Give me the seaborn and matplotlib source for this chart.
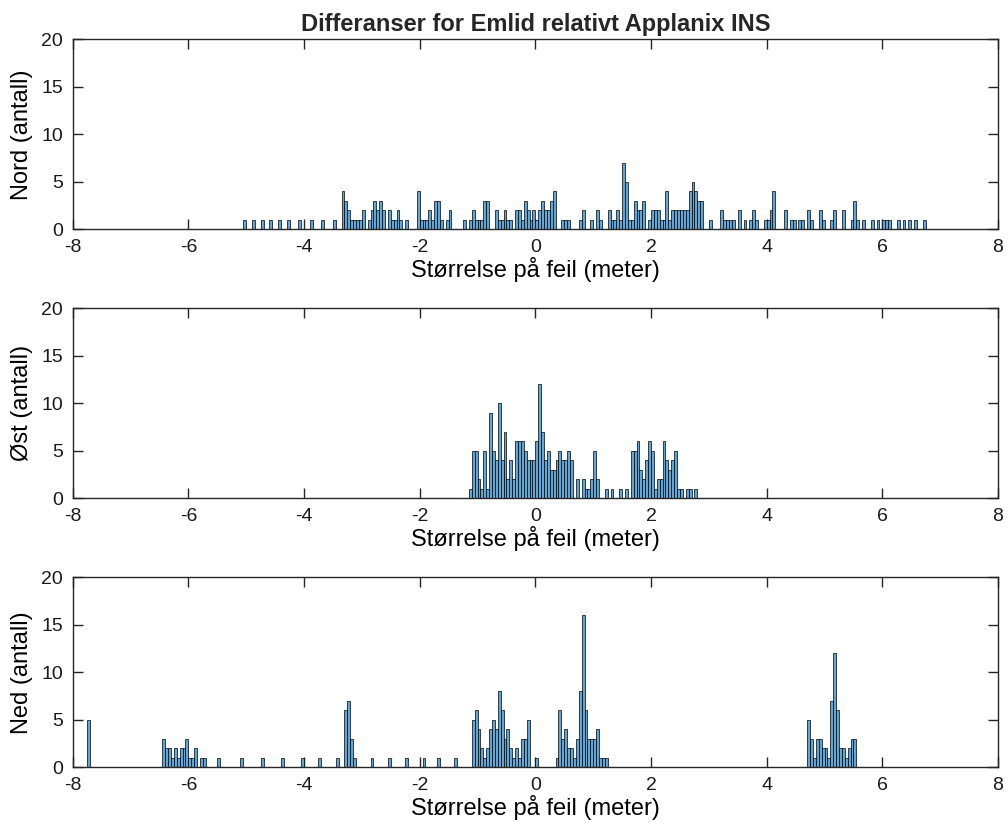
import numpy as np
import pandas as pd
import matplotlib
matplotlib.use("Agg")
import matplotlib.pyplot as plt
import seaborn as sns

# Histogram bin width in metres (all three components use the same bins)
BIN_W = 0.05

# Nord: counts per bin, first bin starts at -5.05 m
nord_start = -5.05
nord_counts = [
    1, 0, 0, 1, 0, 0, 1, 0, 0, 1, 0, 0, 1, 0, 0, 1, 0, 0, 0, 1, 0, 0, 0, 1, 0, 0, 0, 1, 0, 0, 0, 1,
    0, 0, 4, 3, 2, 1, 1, 1, 1, 2, 0, 1, 2, 3, 2, 3, 2, 0, 2, 1, 1, 2, 1, 0, 1, 0, 0, 0, 4, 1,
    1, 1, 2, 1, 3, 3, 1, 0, 1, 2, 0, 0, 0, 0, 1, 0, 1, 2, 1, 1, 1, 3, 3, 0, 0, 2, 1, 1, 2, 1,
    1, 0, 2, 2, 1, 3, 2, 1, 2, 1, 2, 3, 2, 2, 3, 4, 0, 0, 1, 1, 1, 0, 0, 0, 1, 2, 0, 0, 1, 0,
    2, 1, 0, 0, 2, 1, 1, 2, 1, 7, 5, 1, 1, 3, 2, 2, 3, 0, 1, 2, 2, 2, 1, 1, 4, 1, 2, 2, 2, 2,
    2, 2, 4, 5, 4, 3, 3, 0, 0, 1, 0, 0, 0, 2, 1, 1, 1, 1, 0, 2, 0, 1, 0, 1, 2, 1, 0, 0, 1, 1,
    2, 4, 0, 0, 0, 2, 0, 1, 1, 0, 1, 1, 0, 2, 1, 0, 0, 2, 1, 0, 0, 1, 2, 0, 0, 2, 0, 0, 1, 3,
    1, 0, 1, 0, 0, 1, 0, 1, 0, 1, 1, 1, 0, 0, 1, 0, 1, 0, 1, 0, 1, 0, 0, 1,
]

# Øst: counts per bin, first bin starts at -1.15 m
ost_start = -1.15
ost_counts = [
    1, 5, 5, 2, 1, 5, 1, 9, 5, 4, 10, 4, 7, 2, 4, 2, 6, 6, 6, 5, 4, 4, 4, 6, 12, 7, 4, 5, 3, 3,
    4, 5, 4, 4, 5, 4, 0, 2, 0, 2, 1, 1, 2, 5, 2, 0, 0, 1, 0, 1, 0, 0, 1, 0, 1, 0, 5, 5, 6, 3,
    2, 4, 6, 5, 1, 2, 2, 6, 4, 3, 4, 5, 1, 1, 0, 1, 1, 0, 1,
]

# Ned: counts per bin, first bin starts at -7.75 m
ned_start = -7.75
ned_counts = [
    5, 0, 0, 0, 0, 0, 0, 0, 0, 0,
    0, 0, 0, 0, 0, 0, 0, 0, 0, 0,
    0, 0, 0, 0, 0, 0, 3, 2, 2, 1,
    2, 1, 2, 2, 3, 1, 1, 2, 0, 1,
    1, 0, 0, 0, 0, 1, 0, 0, 0, 0,
    0, 0, 0, 1, 0, 0, 0, 0, 0, 0,
    1, 0, 0, 0, 0, 0, 0, 1, 0, 0,
    0, 0, 0, 0, 1, 0, 0, 0, 0, 0,
    1, 0, 0, 0, 0, 0, 1, 0, 0, 6,
    7, 3, 1, 0, 0, 0, 0, 0, 1, 0,
    0, 0, 0, 0, 1, 0, 0, 0, 0, 0,
    1, 0, 0, 0, 0, 0, 1, 0, 0, 0,
    0, 1, 0, 0, 0, 0, 0, 1, 0, 0,
    0, 0, 0, 5, 6, 4, 2, 1, 2, 4,
    5, 4, 8, 6, 3, 4, 2, 1, 2, 1,
    3, 3, 5, 0, 0, 1, 0, 0, 0, 0,
    0, 0, 1, 6, 3, 4, 2, 2, 1, 3,
    8, 16, 6, 3, 3, 3, 4, 1, 1, 1,
    0, 0, 0, 0, 0, 0, 0, 0, 0, 0,
    0, 0, 0, 0, 0, 0, 0, 0, 0, 0,
    0, 0, 0, 0, 0, 0, 0, 0, 0, 0,
    0, 0, 0, 0, 0, 0, 0, 0, 0, 0,
    0, 0, 0, 0, 0, 0, 0, 0, 0, 0,
    0, 0, 0, 0, 0, 0, 0, 0, 0, 0,
    0, 0, 0, 0, 0, 0, 0, 0, 0, 5,
    3, 1, 3, 3, 2, 2, 1, 7, 12, 6,
    2, 2, 1, 2, 3, 3,
]

panel_labels = ["Nord (antall)", "Øst (antall)", "Ned (antall)"]
x_label = "Størrelse på feil (meter)"
title = "Differanser for Emlid relativt Applanix INS"
x_ticks = [-8, -6, -4, -2, 0, 2, 4, 6, 8]
y_ticks = [0, 5, 10, 15, 20]

FACE = (0.38, 0.655, 0.84)
AXC = "#262626"

sns.set_style("ticks")
plt.rcParams["font.family"] = ["Liberation Sans", "DejaVu Sans"]
plt.rcParams.update({
    "axes.unicode_minus": False,
    "axes.edgecolor": AXC,
    "axes.linewidth": 1.0,
    "xtick.color": AXC,
    "ytick.color": AXC,
    "xtick.labelcolor": "#1a1a1a",
    "ytick.labelcolor": "#1a1a1a",
    "xtick.direction": "in",
    "ytick.direction": "in",
    "xtick.major.size": 7.2,
    "ytick.major.size": 7.2,
    "xtick.major.width": 1.0,
    "ytick.major.width": 1.0,
    "xtick.major.pad": 7,
    "ytick.major.pad": 7,
    "xtick.labelsize": 14,
    "ytick.labelsize": 14,
    "axes.labelcolor": "black",
})

fig = plt.figure(figsize=(10.08, 8.24), dpi=100)
left, width, height = 0.0721, 0.918, 0.2306
bottoms = [0.7217, 0.3953, 0.0688]

series = [(nord_start, nord_counts), (ost_start, ost_counts), (ned_start, ned_counts)]

for i, ((start, counts), ylab, b) in enumerate(zip(series, panel_labels, bottoms)):
    ax = fig.add_axes([left, b, width, height])
    n = len(counts)
    edges = [round(start + BIN_W * j, 4) for j in range(n + 1)]
    df = pd.DataFrame({
        "x": [round(start + BIN_W * (j + 0.5), 4) for j in range(n)],
        "n": [float(c) for c in counts],
    })
    sns.histplot(data=df, x="x", weights="n", bins=edges, ax=ax,
                 color=FACE, alpha=1.0, edgecolor="black", linewidth=0.5)
    ax.set_xlim(-8, 8)
    ax.set_ylim(0, 20)
    ax.set_xticks(x_ticks)
    ax.set_yticks(y_ticks)
    ax.tick_params(top=True, right=True)
    for s in ax.spines.values():
        s.set_visible(True)
        s.set_color(AXC)
    ax.set_xlabel(x_label, fontsize=17, labelpad=1)
    ax.set_ylabel(ylab, fontsize=17, labelpad=6)
    if i == 0:
        ax.set_title(title, fontsize=17, fontweight="bold", pad=6)

fig.savefig("out.png", dpi=100)
